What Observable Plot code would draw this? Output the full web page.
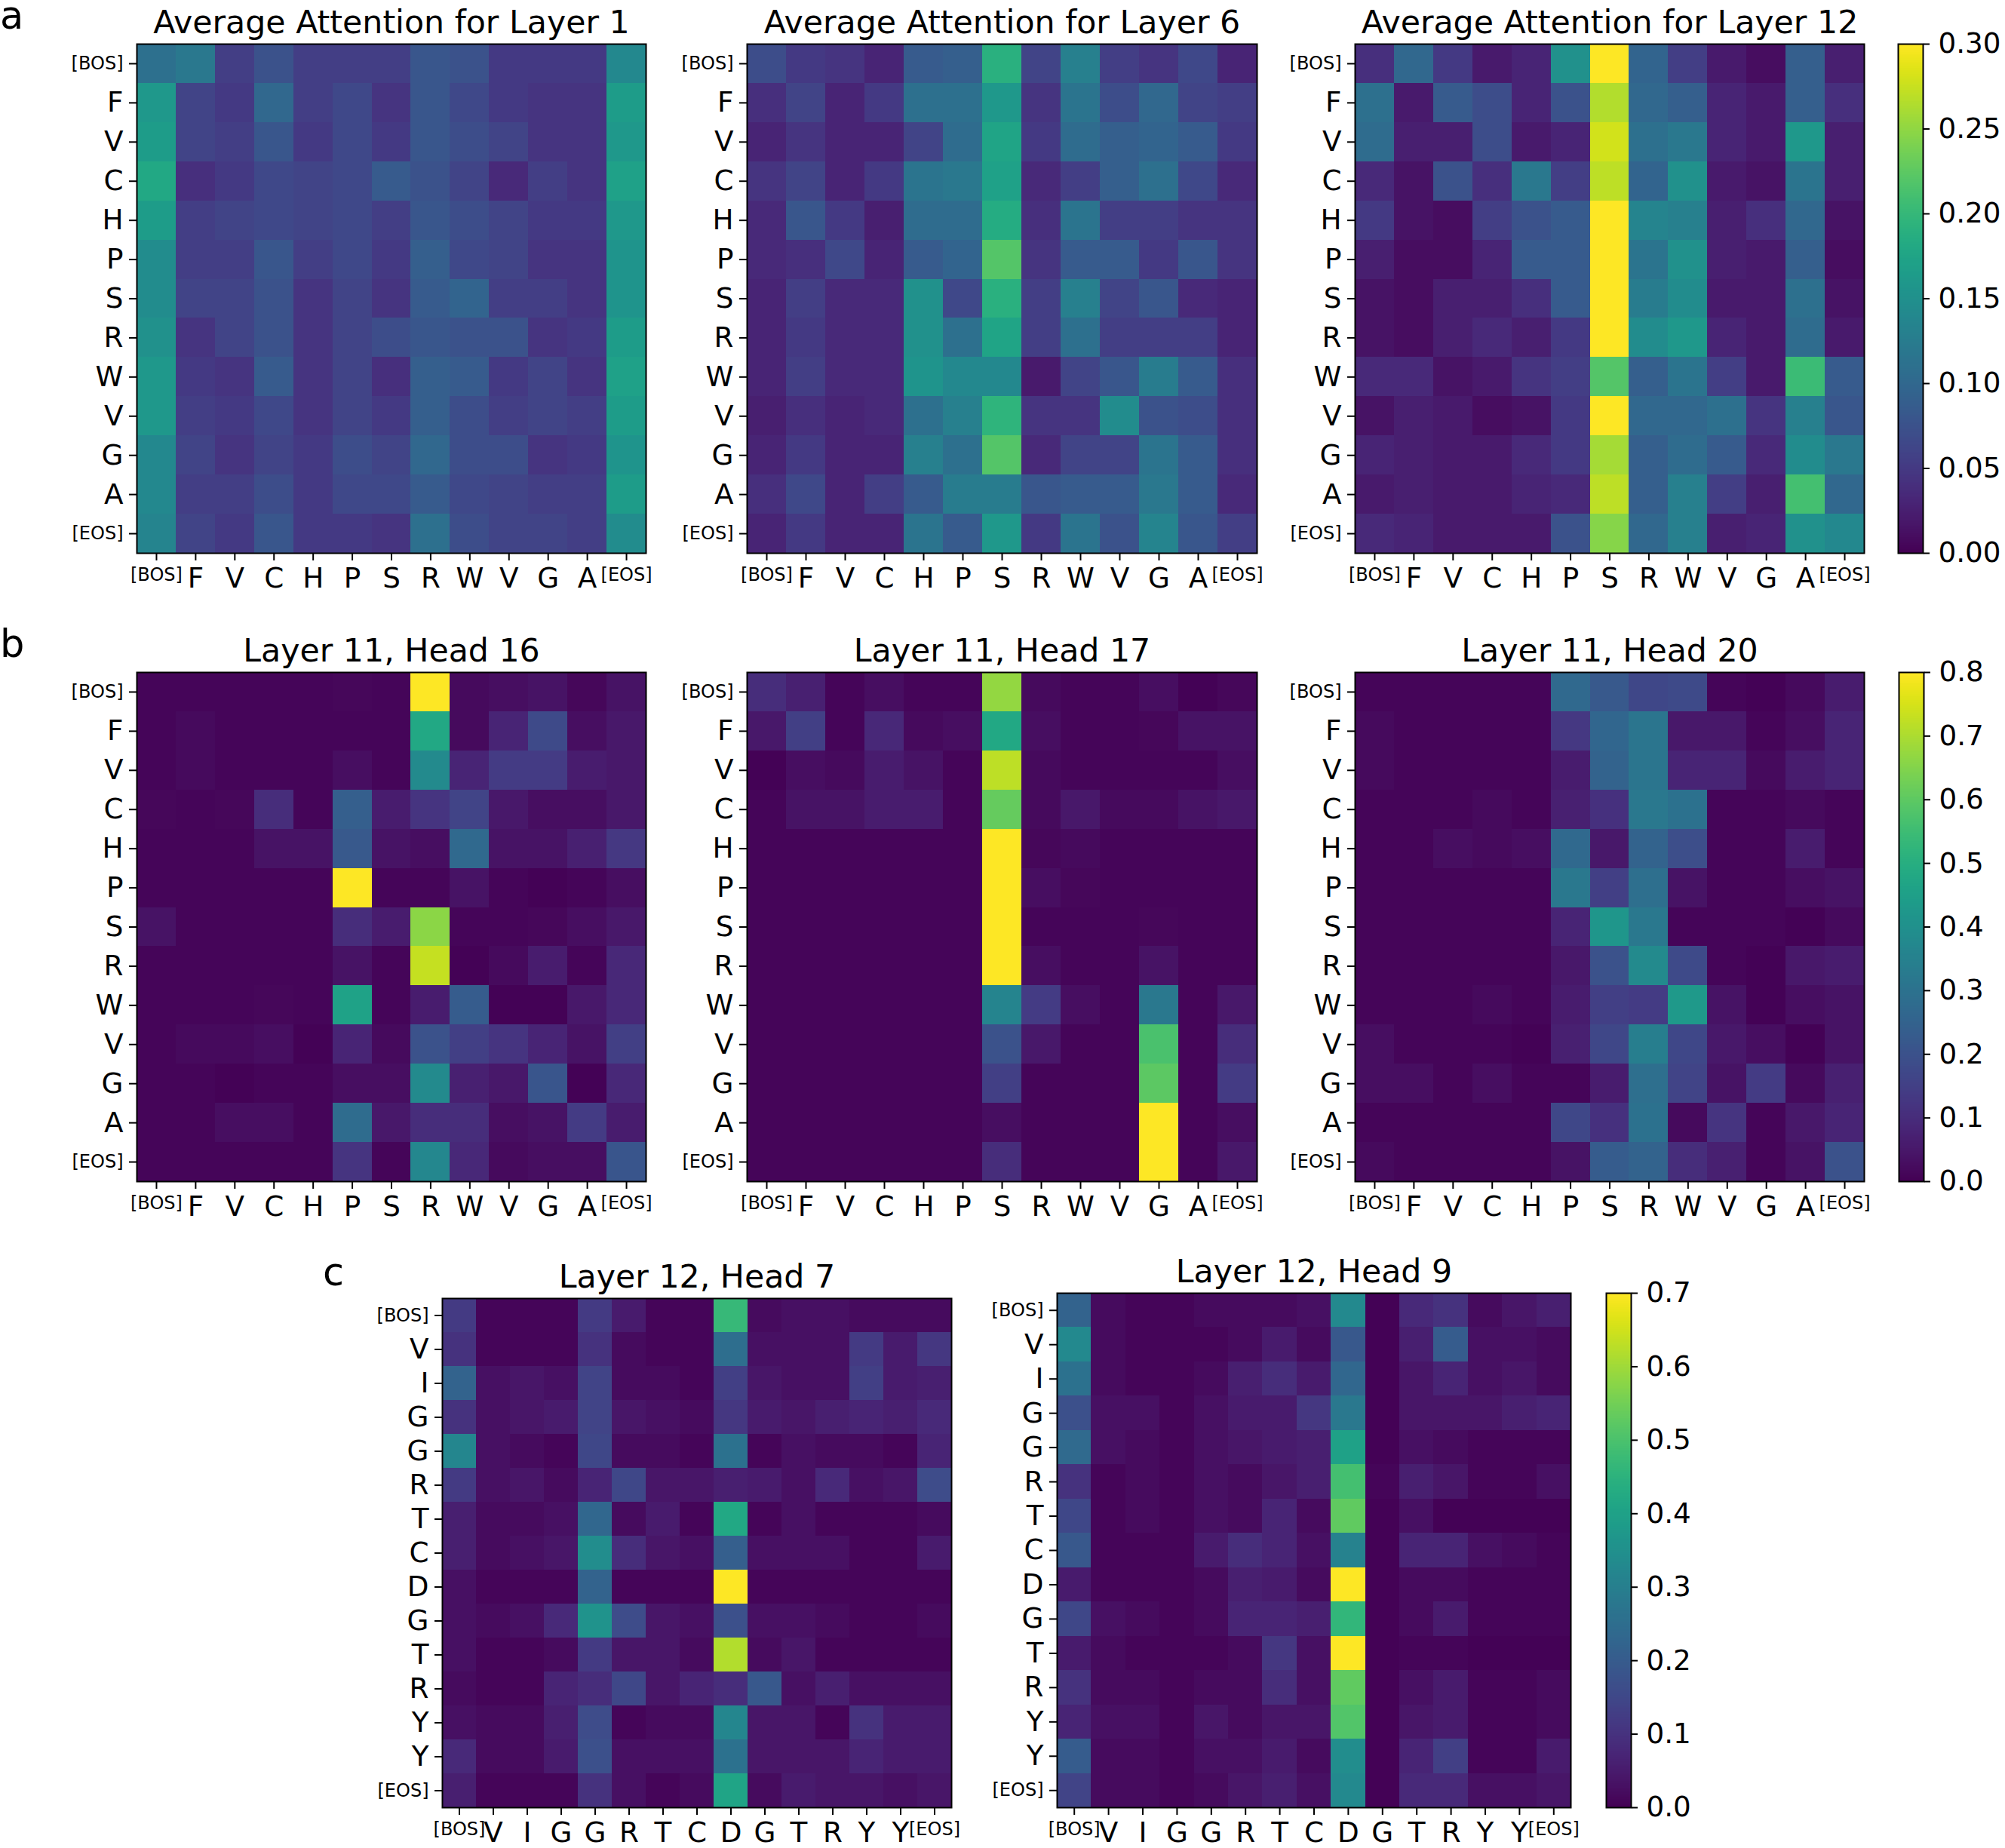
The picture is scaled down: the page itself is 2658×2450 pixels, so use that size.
<!DOCTYPE html>
<html><head><meta charset="utf-8">
<script src="https://cdn.jsdelivr.net/npm/d3@7"></script>
<script src="https://cdn.jsdelivr.net/npm/@observablehq/plot@0.6"></script>
<style>
html,body{margin:0;padding:0;background:#fff;}
#root{position:relative;width:2658px;height:2450px;overflow:hidden;font-family:"DejaVu Sans",sans-serif;}
#root > svg, #root > figure{position:absolute;margin:0;}
</style></head><body><div id="root"></div>
<script>
// ---------- tokens / labels ----------
const tokensAB = ["[BOS]","F","V","C","H","P","S","R","W","V","G","A","[EOS]"];
const tokensC = ["[BOS]","V","I","G","G","R","T","C","D","G","T","R","Y","Y","[EOS]"];
const panelLetters = ["a","b","c"];
const titlesA = ["Average Attention for Layer 1","Average Attention for Layer 6","Average Attention for Layer 12"];
const titlesB = ["Layer 11, Head 16","Layer 11, Head 17","Layer 11, Head 20"];
const titlesC = ["Layer 12, Head 7","Layer 12, Head 9"];
const ticksA = [0,0.05,0.10,0.15,0.20,0.25,0.30];
const ticksB = [0,0.1,0.2,0.3,0.4,0.5,0.6,0.7,0.8];
const ticksC = [0,0.1,0.2,0.3,0.4,0.5,0.6,0.7];
const vmaxA = 0.30, vmaxB = 0.8, vmaxC = 0.7;

// ---------- values (rows = query token, cols = key token) ----------
const layer1 = [
[0.11,0.12,0.055,0.075,0.055,0.055,0.055,0.08,0.075,0.05,0.05,0.05,0.14],
[0.16,0.06,0.05,0.10,0.055,0.065,0.045,0.08,0.065,0.05,0.045,0.045,0.165],
[0.165,0.06,0.055,0.08,0.05,0.065,0.05,0.08,0.07,0.06,0.045,0.045,0.16],
[0.18,0.04,0.05,0.065,0.06,0.065,0.085,0.075,0.06,0.035,0.055,0.045,0.17],
[0.165,0.055,0.06,0.065,0.06,0.065,0.055,0.08,0.07,0.06,0.05,0.05,0.16],
[0.145,0.055,0.055,0.08,0.055,0.065,0.05,0.09,0.065,0.06,0.045,0.045,0.155],
[0.145,0.06,0.06,0.075,0.045,0.06,0.045,0.085,0.095,0.055,0.055,0.045,0.155],
[0.15,0.045,0.06,0.075,0.045,0.06,0.07,0.08,0.075,0.075,0.045,0.05,0.165],
[0.16,0.05,0.045,0.085,0.045,0.06,0.04,0.09,0.085,0.05,0.06,0.045,0.17],
[0.16,0.055,0.05,0.065,0.045,0.06,0.05,0.09,0.07,0.055,0.06,0.055,0.165],
[0.14,0.06,0.045,0.06,0.05,0.07,0.06,0.10,0.07,0.07,0.045,0.05,0.155],
[0.14,0.055,0.055,0.07,0.05,0.065,0.065,0.085,0.065,0.06,0.055,0.055,0.165],
[0.135,0.06,0.05,0.08,0.05,0.05,0.045,0.11,0.07,0.06,0.06,0.055,0.145]
];
const layer6 = [
[0.07,0.05,0.045,0.03,0.085,0.09,0.19,0.06,0.13,0.055,0.045,0.065,0.03],
[0.04,0.06,0.03,0.05,0.11,0.11,0.16,0.045,0.115,0.07,0.10,0.06,0.055],
[0.03,0.045,0.03,0.03,0.06,0.105,0.175,0.05,0.105,0.09,0.095,0.085,0.05],
[0.045,0.06,0.03,0.05,0.115,0.12,0.17,0.035,0.055,0.09,0.11,0.065,0.035],
[0.035,0.08,0.05,0.025,0.105,0.105,0.185,0.04,0.115,0.055,0.055,0.045,0.045],
[0.035,0.04,0.065,0.03,0.085,0.095,0.22,0.045,0.085,0.085,0.05,0.08,0.045],
[0.03,0.055,0.035,0.035,0.15,0.065,0.19,0.055,0.13,0.06,0.08,0.035,0.03],
[0.03,0.05,0.035,0.035,0.15,0.11,0.175,0.055,0.11,0.055,0.055,0.055,0.03],
[0.03,0.055,0.035,0.035,0.155,0.14,0.14,0.02,0.06,0.08,0.125,0.085,0.04],
[0.025,0.04,0.03,0.035,0.11,0.13,0.195,0.045,0.045,0.145,0.075,0.07,0.04],
[0.03,0.05,0.03,0.03,0.13,0.11,0.22,0.035,0.06,0.06,0.115,0.085,0.04],
[0.04,0.065,0.03,0.055,0.085,0.125,0.125,0.08,0.085,0.085,0.12,0.085,0.035],
[0.03,0.05,0.03,0.03,0.115,0.085,0.16,0.05,0.115,0.075,0.135,0.08,0.055]
];
const layer12 = [
[0.04,0.10,0.05,0.02,0.03,0.15,0.30,0.095,0.055,0.02,0.01,0.09,0.025],
[0.11,0.02,0.085,0.07,0.03,0.075,0.265,0.10,0.09,0.03,0.02,0.09,0.04],
[0.105,0.025,0.025,0.07,0.02,0.03,0.28,0.11,0.12,0.03,0.02,0.16,0.025],
[0.035,0.015,0.075,0.04,0.12,0.055,0.27,0.095,0.15,0.02,0.015,0.115,0.025],
[0.05,0.015,0.01,0.055,0.075,0.085,0.30,0.135,0.13,0.025,0.04,0.10,0.015],
[0.025,0.01,0.01,0.03,0.085,0.085,0.30,0.115,0.15,0.025,0.02,0.09,0.01],
[0.015,0.01,0.025,0.025,0.04,0.085,0.30,0.125,0.145,0.02,0.02,0.11,0.015],
[0.015,0.01,0.025,0.035,0.025,0.05,0.30,0.145,0.16,0.03,0.02,0.105,0.02],
[0.035,0.035,0.015,0.02,0.045,0.055,0.22,0.09,0.115,0.055,0.02,0.205,0.085],
[0.015,0.025,0.02,0.01,0.015,0.05,0.30,0.10,0.10,0.11,0.045,0.13,0.08],
[0.03,0.025,0.02,0.02,0.035,0.05,0.26,0.09,0.105,0.085,0.035,0.145,0.12],
[0.02,0.025,0.02,0.02,0.03,0.035,0.27,0.09,0.13,0.055,0.025,0.21,0.10],
[0.035,0.03,0.02,0.02,0.02,0.075,0.245,0.10,0.13,0.025,0.03,0.15,0.14]
];
const head16 = [
[0.01,0.01,0.01,0.01,0.01,0.015,0.01,0.8,0.02,0.03,0.04,0.015,0.04],
[0.01,0.02,0.01,0.01,0.01,0.01,0.01,0.48,0.02,0.08,0.18,0.03,0.05],
[0.01,0.02,0.01,0.01,0.01,0.03,0.01,0.38,0.08,0.14,0.14,0.06,0.05],
[0.015,0.01,0.015,0.10,0.01,0.24,0.06,0.12,0.16,0.05,0.03,0.03,0.05],
[0.01,0.01,0.01,0.04,0.04,0.22,0.04,0.03,0.27,0.04,0.04,0.07,0.13],
[0.01,0.01,0.01,0.01,0.01,0.80,0.01,0.01,0.04,0.01,0.005,0.01,0.03],
[0.04,0.01,0.01,0.01,0.01,0.10,0.06,0.66,0.01,0.01,0.015,0.03,0.05],
[0.01,0.01,0.01,0.01,0.01,0.04,0.01,0.73,0.005,0.02,0.06,0.01,0.09],
[0.01,0.01,0.01,0.015,0.01,0.46,0.01,0.06,0.23,0.005,0.005,0.05,0.09],
[0.01,0.02,0.02,0.03,0.005,0.08,0.02,0.20,0.15,0.12,0.08,0.04,0.15],
[0.01,0.01,0.005,0.01,0.01,0.03,0.03,0.38,0.07,0.05,0.21,0.005,0.09],
[0.01,0.01,0.03,0.03,0.01,0.28,0.05,0.10,0.10,0.03,0.04,0.14,0.06],
[0.01,0.01,0.01,0.01,0.01,0.12,0.01,0.37,0.09,0.02,0.03,0.03,0.21]
];
const head17 = [
[0.10,0.07,0.01,0.03,0.01,0.01,0.67,0.02,0.01,0.01,0.03,0.005,0.015],
[0.05,0.15,0.01,0.09,0.02,0.03,0.48,0.03,0.01,0.01,0.015,0.04,0.04],
[0.005,0.03,0.02,0.06,0.04,0.01,0.72,0.02,0.01,0.01,0.01,0.01,0.03],
[0.01,0.04,0.04,0.06,0.06,0.01,0.61,0.02,0.05,0.02,0.02,0.04,0.05],
[0.01,0.01,0.01,0.01,0.01,0.01,0.80,0.015,0.02,0.01,0.01,0.01,0.01],
[0.01,0.01,0.01,0.01,0.01,0.01,0.80,0.03,0.015,0.01,0.01,0.01,0.01],
[0.01,0.01,0.01,0.01,0.01,0.01,0.80,0.01,0.01,0.01,0.015,0.01,0.01],
[0.01,0.01,0.01,0.01,0.01,0.01,0.80,0.03,0.01,0.01,0.04,0.01,0.01],
[0.01,0.01,0.01,0.01,0.01,0.01,0.36,0.14,0.03,0.01,0.32,0.01,0.05],
[0.01,0.01,0.01,0.01,0.01,0.01,0.20,0.05,0.01,0.01,0.57,0.01,0.10],
[0.01,0.01,0.01,0.01,0.01,0.01,0.15,0.01,0.01,0.01,0.60,0.01,0.14],
[0.01,0.01,0.01,0.01,0.01,0.01,0.03,0.01,0.01,0.01,0.80,0.01,0.03],
[0.01,0.01,0.01,0.01,0.01,0.01,0.10,0.01,0.01,0.01,0.80,0.01,0.05]
];
const head20 = [
[0.01,0.01,0.01,0.01,0.01,0.27,0.22,0.17,0.18,0.01,0.005,0.02,0.06],
[0.02,0.01,0.01,0.01,0.01,0.13,0.26,0.31,0.05,0.05,0.01,0.03,0.08],
[0.02,0.01,0.01,0.01,0.01,0.06,0.25,0.31,0.08,0.08,0.02,0.06,0.08],
[0.01,0.01,0.01,0.02,0.01,0.07,0.11,0.32,0.30,0.01,0.01,0.02,0.01],
[0.01,0.01,0.03,0.02,0.03,0.27,0.05,0.25,0.19,0.01,0.01,0.06,0.01],
[0.01,0.01,0.01,0.01,0.01,0.32,0.15,0.29,0.04,0.01,0.01,0.03,0.04],
[0.01,0.01,0.01,0.01,0.01,0.08,0.42,0.32,0.01,0.01,0.01,0.005,0.02],
[0.01,0.01,0.01,0.01,0.01,0.05,0.20,0.38,0.18,0.01,0.005,0.05,0.06],
[0.01,0.01,0.01,0.02,0.01,0.06,0.15,0.14,0.43,0.04,0.005,0.03,0.04],
[0.03,0.01,0.01,0.01,0.005,0.07,0.17,0.34,0.17,0.05,0.03,0.005,0.04],
[0.03,0.03,0.01,0.03,0.01,0.01,0.06,0.29,0.16,0.04,0.14,0.02,0.07],
[0.01,0.01,0.01,0.01,0.01,0.17,0.11,0.30,0.02,0.12,0.01,0.05,0.08],
[0.02,0.01,0.01,0.01,0.01,0.04,0.23,0.25,0.10,0.07,0.01,0.04,0.20]
];
const l12h7 = [
[0.12,0.01,0.01,0.01,0.12,0.05,0.01,0.01,0.47,0.02,0.03,0.03,0.02,0.02,0.02],
[0.10,0.01,0.01,0.01,0.10,0.02,0.01,0.01,0.25,0.03,0.03,0.03,0.12,0.05,0.11],
[0.22,0.03,0.04,0.03,0.14,0.02,0.02,0.01,0.13,0.04,0.03,0.03,0.13,0.05,0.06],
[0.10,0.03,0.04,0.05,0.14,0.04,0.03,0.02,0.11,0.05,0.04,0.06,0.07,0.06,0.08],
[0.32,0.03,0.02,0.01,0.15,0.02,0.02,0.01,0.26,0.01,0.03,0.02,0.02,0.01,0.07],
[0.12,0.03,0.04,0.02,0.07,0.15,0.04,0.04,0.06,0.05,0.03,0.08,0.03,0.04,0.16],
[0.06,0.02,0.02,0.03,0.23,0.02,0.05,0.01,0.42,0.01,0.03,0.01,0.01,0.01,0.02],
[0.06,0.02,0.03,0.04,0.34,0.09,0.04,0.03,0.21,0.03,0.03,0.03,0.01,0.01,0.05],
[0.03,0.01,0.01,0.01,0.22,0.01,0.01,0.01,0.70,0.01,0.01,0.01,0.01,0.01,0.01],
[0.03,0.02,0.03,0.08,0.36,0.16,0.04,0.03,0.17,0.03,0.03,0.02,0.01,0.01,0.02],
[0.03,0.01,0.01,0.02,0.12,0.04,0.04,0.02,0.62,0.02,0.04,0.01,0.01,0.01,0.01],
[0.02,0.01,0.01,0.07,0.09,0.15,0.04,0.07,0.09,0.19,0.03,0.06,0.03,0.03,0.03],
[0.03,0.02,0.02,0.06,0.16,0.01,0.02,0.02,0.32,0.04,0.04,0.01,0.10,0.05,0.05],
[0.08,0.02,0.02,0.05,0.17,0.03,0.03,0.03,0.26,0.04,0.04,0.04,0.07,0.05,0.05],
[0.06,0.01,0.01,0.01,0.10,0.03,0.01,0.02,0.41,0.02,0.05,0.04,0.04,0.03,0.04]
];
const l12h9 = [
[0.22,0.02,0.01,0.01,0.02,0.02,0.02,0.03,0.33,0.005,0.08,0.10,0.02,0.04,0.06],
[0.33,0.02,0.01,0.01,0.01,0.02,0.05,0.02,0.19,0.005,0.06,0.20,0.03,0.03,0.02],
[0.26,0.02,0.01,0.01,0.02,0.06,0.09,0.05,0.23,0.005,0.04,0.07,0.03,0.04,0.02],
[0.17,0.03,0.03,0.01,0.03,0.05,0.05,0.11,0.28,0.005,0.04,0.04,0.04,0.06,0.07],
[0.24,0.03,0.02,0.01,0.03,0.04,0.05,0.06,0.40,0.005,0.03,0.02,0.01,0.01,0.01],
[0.10,0.01,0.02,0.01,0.03,0.02,0.04,0.06,0.49,0.01,0.06,0.04,0.01,0.01,0.03],
[0.15,0.01,0.02,0.01,0.03,0.02,0.07,0.02,0.53,0.005,0.03,0.005,0.005,0.005,0.005],
[0.19,0.01,0.01,0.01,0.05,0.09,0.07,0.03,0.31,0.005,0.07,0.07,0.03,0.02,0.01],
[0.05,0.01,0.01,0.01,0.02,0.06,0.05,0.02,0.70,0.005,0.02,0.02,0.01,0.01,0.01],
[0.15,0.03,0.02,0.01,0.02,0.07,0.07,0.06,0.46,0.005,0.02,0.05,0.01,0.01,0.01],
[0.05,0.02,0.01,0.01,0.01,0.02,0.11,0.03,0.70,0.005,0.01,0.01,0.005,0.005,0.005],
[0.10,0.02,0.02,0.01,0.02,0.02,0.09,0.03,0.53,0.005,0.03,0.05,0.01,0.01,0.02],
[0.07,0.03,0.03,0.01,0.04,0.02,0.04,0.04,0.51,0.005,0.04,0.05,0.01,0.01,0.02],
[0.20,0.02,0.02,0.01,0.03,0.03,0.05,0.02,0.34,0.005,0.07,0.13,0.01,0.01,0.05],
[0.14,0.02,0.02,0.01,0.02,0.04,0.06,0.03,0.33,0.005,0.08,0.08,0.03,0.03,0.04]
];

// ---------- drawing ----------
const root = document.getElementById("root");
const FONT = "DejaVu Sans";
const TICK_FS = 37.3, SMALL_FS = 24, TITLE_FS = 42.7, LETTER_FS = 51;

function place(node, left, top) {
  node.style.position = "absolute";
  node.style.left = left + "px";
  node.style.top = top + "px";
  root.appendChild(node);
}

function heatmap(values, tokens, vmax, title, fx, fy, fw, fh) {
  const n = tokens.length;
  const idx = d3.range(n);
  const cells = [];
  values.forEach((row, i) => row.forEach((v, j) => cells.push({r: i, c: j, v})));
  const mL = 130, mR = 30, mT = 80, mB = 90;
  const fs = d => tokens[d].startsWith("[") ? SMALL_FS : TICK_FS;
  const svg = Plot.plot({
    width: fw + mL + mR, height: fh + mT + mB,
    marginLeft: mL, marginRight: mR, marginTop: mT, marginBottom: mB,
    style: {fontFamily: FONT, background: "transparent", overflow: "visible", color: "black"},
    x: {type: "band", domain: idx, padding: 0, round: false, axis: null, label: null},
    y: {type: "band", domain: idx, padding: 0, round: false, axis: null, label: null},
    color: {type: "linear", scheme: "viridis", domain: [0, vmax], clamp: true},
    marks: [
      Plot.cell(cells, {x: "c", y: "r", fill: "v", inset: 0, shapeRendering: "crispEdges"}),
      Plot.frame({stroke: "black", strokeWidth: 2}),
      Plot.axisX(idx, {anchor: "bottom", tickSize: 10, tickFormat: () => "", label: null, strokeWidth: 2, stroke: "black"}),
      Plot.axisY(idx, {anchor: "left", tickSize: 10, tickFormat: () => "", label: null, strokeWidth: 2, stroke: "black"}),
      Plot.text(idx, {x: d => d, text: d => tokens[d], frameAnchor: "bottom", lineAnchor: "top", dy: 19, fontSize: fs, fill: "black"}),
      Plot.text(idx, {y: d => d, text: d => tokens[d], frameAnchor: "left", textAnchor: "end", dx: -18, fontSize: fs, fill: "black"}),
      Plot.text([title], {text: d => d, frameAnchor: "top", lineAnchor: "bottom", dy: -15, fontSize: TITLE_FS, fill: "black"})
    ]
  });
  place(svg, fx - mL, fy - mT);
}

function colorbar(vmax, ticks, fmt, fx, fy, fw, fh) {
  const mL = 10, mR = 140, mT = 40, mB = 40;
  const svg = Plot.plot({
    width: fw + mL + mR, height: fh + mT + mB,
    marginLeft: mL, marginRight: mR, marginTop: mT, marginBottom: mB,
    style: {fontFamily: FONT, background: "transparent", overflow: "visible", color: "black"},
    x: {domain: [0, 1], axis: null, label: null},
    y: {domain: [0, vmax], axis: null, label: null},
    color: {type: "linear", scheme: "viridis", domain: [0, vmax]},
    marks: [
      Plot.raster({fill: (x, y) => y, x1: 0, x2: 1, y1: 0, y2: vmax, width: 2, height: 700, imageRendering: "auto"}),
      Plot.frame({stroke: "black", strokeWidth: 2}),
      Plot.axisY(ticks, {anchor: "right", tickSize: 8, tickPadding: 12, tickFormat: fmt, label: null, fontSize: TICK_FS, strokeWidth: 2, stroke: "black", fill: "black"})
    ]
  });
  place(svg, fx - mL, fy - mT);
}

// row a
heatmap(layer1, tokensAB, vmaxA, titlesA[0], 181, 58, 675, 675);
heatmap(layer6, tokensAB, vmaxA, titlesA[1], 990, 58, 676, 675);
heatmap(layer12, tokensAB, vmaxA, titlesA[2], 1796, 58, 675, 675);
colorbar(vmaxA, ticksA, d3.format(".2f"), 2516, 58, 33, 675);
// row b
heatmap(head16, tokensAB, vmaxB, titlesB[0], 181, 891, 675, 675);
heatmap(head17, tokensAB, vmaxB, titlesB[1], 990, 891, 676, 675);
heatmap(head20, tokensAB, vmaxB, titlesB[2], 1796, 891, 675, 675);
colorbar(vmaxB, ticksB, d3.format(".1f"), 2517, 891, 33, 675);
// row c
heatmap(l12h7, tokensC, vmaxC, titlesC[0], 586, 1721, 675, 675);
heatmap(l12h9, tokensC, vmaxC, titlesC[1], 1401, 1714, 681, 682);
colorbar(vmaxC, ticksC, d3.format(".1f"), 2129, 1714, 33, 682);

// panel letters
const ns = "http://www.w3.org/2000/svg";
const lsvg = document.createElementNS(ns, "svg");
lsvg.setAttribute("width", 2658); lsvg.setAttribute("height", 2450);
lsvg.style.pointerEvents = "none";
const letterPos = [[0, 38], [0, 871], [428, 1704]];
panelLetters.forEach((t, i) => {
  const el = document.createElementNS(ns, "text");
  el.setAttribute("x", letterPos[i][0]);
  el.setAttribute("y", letterPos[i][1]);
  el.setAttribute("font-family", FONT);
  el.setAttribute("font-size", LETTER_FS);
  el.setAttribute("fill", "black");
  el.textContent = t;
  lsvg.appendChild(el);
});
place(lsvg, 0, 0);
</script>
</body></html>
